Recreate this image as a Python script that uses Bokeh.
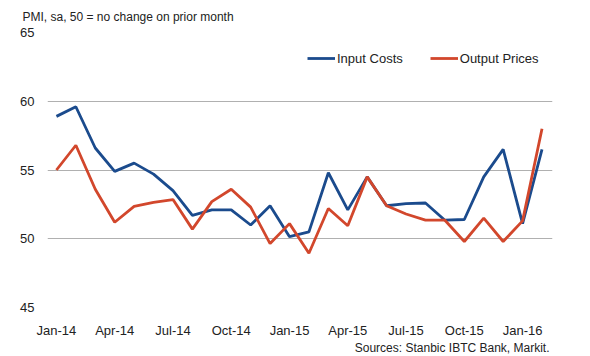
from bokeh.plotting import figure
from bokeh.models import Range1d, FixedTicker, Legend, LegendItem, Title
from bokeh.embed import file_html
from bokeh.resources import INLINE

months = ["Jan-14","Feb-14","Mar-14","Apr-14","May-14","Jun-14","Jul-14","Aug-14","Sep-14","Oct-14","Nov-14","Dec-14",
          "Jan-15","Feb-15","Mar-15","Apr-15","May-15","Jun-15","Jul-15","Aug-15","Sep-15","Oct-15","Nov-15","Dec-15",
          "Jan-16","Feb-16"]
input_costs = [58.9, 59.6, 56.6, 54.9, 55.5, 54.7, 53.5, 51.7, 52.1, 52.1, 51.0, 52.4,
               50.15, 50.5, 54.8, 52.1, 54.5, 52.4, 52.55, 52.6, 51.35, 51.4, 54.5, 56.5,
               51.1, 56.5]
output_prices = [55.0, 56.8, 53.6, 51.2, 52.35, 52.65, 52.85, 50.7, 52.7, 53.6, 52.3, 49.65,
                 51.1, 48.95, 52.2, 50.95, 54.5, 52.4, 51.8, 51.35, 51.35, 49.8, 51.5, 49.8,
                 51.3, 58.0]
tick_positions = [0, 3, 6, 9, 12, 15, 18, 21, 24]
y_ticks = [45, 50, 55, 60, 65]

FONT = "Liberation Sans"
TXT = "#222222"

x = list(range(len(months)))

p = figure(width=590, height=356, output_backend="svg", toolbar_location=None,
           x_range=Range1d(-0.46, 25.54), y_range=Range1d(45, 65),
           min_border_left=47, min_border_right=38, min_border_top=32, min_border_bottom=48)
p.outline_line_color = None

p.title.text = "PMI, sa, 50 = no change on prior month"
p.title.align = "left"
p.title.offset = -25
p.title.text_font = FONT
p.title.text_font_size = "12px"
p.title.text_font_style = "normal"
p.title.text_color = TXT
p.title.vertical_align = "top"
p.title.standoff = 14

p.xaxis.ticker = FixedTicker(ticks=tick_positions)
p.xaxis.major_label_overrides = {i: months[i] for i in tick_positions}
p.yaxis.ticker = FixedTicker(ticks=y_ticks)
for ax in (p.xaxis[0], p.yaxis[0]):
    ax.axis_line_color = None
    ax.major_tick_line_color = None
    ax.minor_tick_line_color = None
    ax.major_label_text_font = FONT
    ax.major_label_text_font_size = "13px"
    ax.major_label_text_color = TXT
p.yaxis.major_label_standoff = 7
p.xaxis.major_label_standoff = 9
p.xgrid.grid_line_color = None
p.ygrid.ticker = FixedTicker(ticks=y_ticks)
p.ygrid.grid_line_color = "#b0b0b0"
p.ygrid.grid_line_width = 1

l1 = p.line(x, input_costs, line_color="#1b4b8d", line_width=2.8)
l2 = p.line(x, output_prices, line_color="#d2472c", line_width=2.8)

legend = Legend(items=[LegendItem(label="Input Costs", renderers=[l1]),
                       LegendItem(label="Output Prices", renderers=[l2])],
                orientation="horizontal", location=(260, 239), padding=0, spacing=27,
                glyph_width=28, glyph_height=20, label_standoff=2,
                border_line_color=None, background_fill_alpha=0,
                label_text_font=FONT, label_text_font_size="13px", label_text_color=TXT)
p.add_layout(legend, "center")

src = Title(text="Sources: Stanbic IBTC Bank, Markit.", align="right", offset=3,
            text_font=FONT, text_font_size="12px", text_font_style="normal",
            text_color=TXT, vertical_align="top", standoff=0)
p.add_layout(src, "below")

open("out.html", "w").write(file_html(p, INLINE))
